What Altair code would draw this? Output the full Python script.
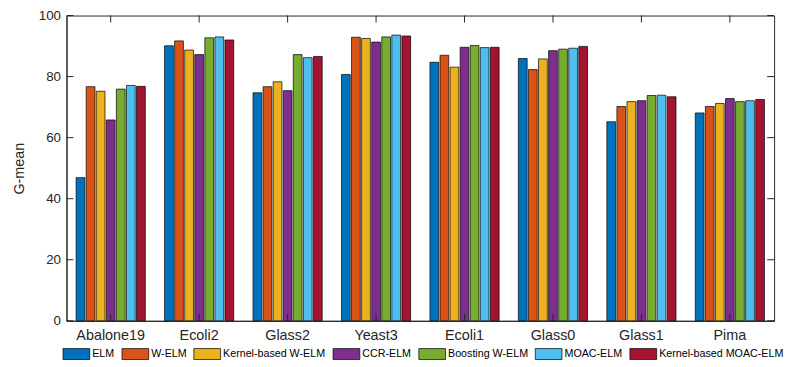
import altair as alt
import pandas as pd

datasets = ["Abalone19", "Ecoli2", "Glass2", "Yeast3", "Ecoli1", "Glass0", "Glass1", "Pima"]
methods = ["ELM", "W-ELM", "Kernel-based W-ELM", "CCR-ELM", "Boosting W-ELM",
           "MOAC-ELM", "Kernel-based MOAC-ELM"]
colors = ["#0072BD", "#D95319", "#EDB120", "#7E2F8E", "#77AC30", "#4DBEEE", "#A2142F"]

elm = [46.9, 90.1, 74.7, 80.7, 84.7, 85.9, 65.2, 68.1]
w_elm = [76.7, 91.7, 76.7, 92.9, 87.0, 82.3, 70.2, 70.2]
k_w_elm = [75.2, 88.7, 78.3, 92.5, 83.1, 85.8, 71.8, 71.2]
ccr_elm = [65.8, 87.2, 75.4, 91.3, 89.6, 88.5, 72.1, 72.8]
boost_w_elm = [75.9, 92.7, 87.2, 93.0, 90.2, 89.0, 73.8, 71.8]
moac_elm = [77.1, 93.0, 86.2, 93.6, 89.5, 89.3, 73.9, 72.1]
k_moac_elm = [76.8, 92.0, 86.6, 93.3, 89.6, 89.9, 73.4, 72.5]

y_ticks = [0, 20, 40, 60, 80, 100]

series = [elm, w_elm, k_w_elm, ccr_elm, boost_w_elm, moac_elm, k_moac_elm]
rows = []
for m, vals in zip(methods, series):
    for d, v in zip(datasets, vals):
        rows.append({"Dataset": d, "Method": m, "Value": v})
df = pd.DataFrame(rows)
df_y = pd.DataFrame({"Value": y_ticks})
df_x = pd.DataFrame({"Dataset": datasets})

FONT = "Liberation Sans"
INK = "#262626"
W, H = 714, 308

x_scale = alt.Scale(paddingInner=0.218, paddingOuter=0.109)
y_scale = alt.Scale(domain=[0, 100], nice=False)
x_axis = alt.Axis(title=None, labelAngle=0, ticks=False, tickSize=0, labelPadding=8,
                  labelFontSize=14.5, labelColor=INK, domainColor=INK, grid=False)
y_axis = alt.Axis(title="G-mean", values=y_ticks, ticks=False, tickSize=0, labelPadding=6,
                  labelFontSize=13.5, labelColor=INK, domainColor=INK, grid=False,
                  titleFontSize=14.5, titleFontWeight="normal", titleColor=INK, titlePadding=12)

X = alt.X("Dataset:N", sort=datasets, scale=x_scale, axis=x_axis)
Y = alt.Y("Value:Q", scale=y_scale, axis=y_axis)

bars = alt.Chart(df).mark_bar(stroke="black", strokeWidth=0.7).encode(
    x=X,
    xOffset=alt.XOffset("Method:N", sort=methods,
                        scale=alt.Scale(paddingInner=0.13, paddingOuter=0)),
    y=Y,
    color=alt.Color("Method:N", sort=methods,
                    scale=alt.Scale(domain=methods, range=colors),
                    legend=alt.Legend(
                        title=None, orient="none", legendX=-4, legendY=327.5,
                        direction="horizontal", columns=7, padding=0,
                        symbolType="M-1,-0.41H1V0.41H-1Z", symbolSize=729,
                        symbolStrokeColor="black", symbolStrokeWidth=0.7,
                        symbolOpacity=1,
                        labelFontSize=10.8, labelFont=FONT, labelColor="black",
                        labelOffset=2, columnPadding=5.5)),
)

yt_left = alt.Chart(df_y).mark_rule(color=INK, strokeWidth=1).encode(
    y=Y, x=alt.value(0), x2=alt.value(7))
yt_right = alt.Chart(df_y).mark_rule(color=INK, strokeWidth=1).encode(
    y=Y, x=alt.value(W - 7), x2=alt.value(W))
xt_bottom = alt.Chart(df_x).mark_rule(color=INK, strokeWidth=1).encode(
    x=X, y=alt.value(H), y2=alt.value(H - 7))
xt_top = alt.Chart(df_x).mark_rule(color=INK, strokeWidth=1).encode(
    x=X, y=alt.value(0), y2=alt.value(7))

chart = alt.layer(bars, yt_left, yt_right, xt_bottom, xt_top).properties(
    width=W, height=H,
    autosize=alt.AutoSizeParams(type="none"),
    padding={"left": 59, "top": 6, "right": 12, "bottom": 45},
).configure(font=FONT).configure_view(stroke=INK, strokeWidth=1)

chart.save("out.html", embed_options={"renderer": "svg", "actions": False})
